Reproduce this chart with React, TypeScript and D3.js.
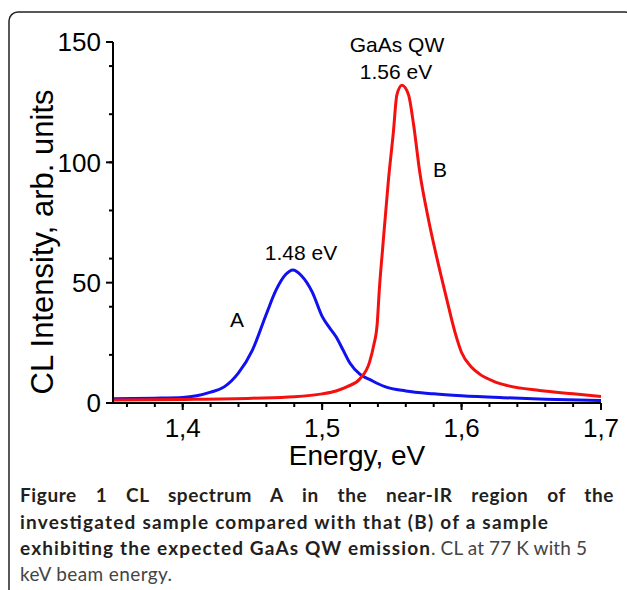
import { useEffect, useRef } from "react";
import * as d3 from "d3";

// spectrum A (blue) - near-IR emission of the investigated sample
const energyA = [1.35, 1.38, 1.4, 1.41, 1.42, 1.43, 1.44, 1.45, 1.46, 1.467, 1.474, 1.479, 1.485, 1.493, 1.5, 1.505, 1.51, 1.515, 1.52, 1.527, 1.535, 1.545, 1.56, 1.58, 1.6, 1.63, 1.66, 1.7];
const intensityA = [1.8, 2.0, 2.3, 3.0, 4.5, 6.8, 12.5, 22, 37, 47, 53.5, 55.3, 53, 46, 36, 31.5, 27.5, 22, 16.5, 12, 9.5, 6.8, 5.0, 3.8, 3.0, 2.2, 1.6, 1.0];

// spectrum B (red) - GaAs QW emission
const energyB = [1.35, 1.4, 1.45, 1.48, 1.5, 1.51, 1.518, 1.527, 1.534, 1.537, 1.5395, 1.541, 1.5435, 1.5476, 1.551, 1.5536, 1.5572, 1.562, 1.5655, 1.57, 1.576, 1.582, 1.589, 1.595, 1.6, 1.607, 1.613, 1.623, 1.633, 1.656, 1.68, 1.7];
const intensityB = [1.2, 1.5, 2.0, 2.6, 3.8, 5.0, 6.8, 10, 17, 24, 33, 47, 65, 93, 112, 128, 132, 128, 116, 96, 77, 61, 44, 30, 21, 15, 12, 9, 7.2, 5.2, 3.8, 2.7];

const captionBold1 = "Figure 1 CL spectrum A in the near-IR region of the";
const captionBold2 = "investigated sample compared with that (B) of a sample";
const captionBold3 = "exhibiting the expected GaAs QW emission";
const captionReg3 = ". CL at 77 K with 5";
const captionReg4 = "keV beam energy.";

const W = 627;
const H = 590;
const margin = { left: 113, right: 26, top: 42, bottom: 187 };

const font = "'Liberation Sans', Arial, sans-serif";
const capFont = "Lato, 'Open Sans', sans-serif";

const commaFmt = d3.formatLocale({ decimal: ",", thousands: " ", grouping: [3], currency: ["", ""] }).format(".1f");

export default function App() {
  const line1Ref = useRef<SVGTextElement>(null);

  const x = d3.scaleLinear().domain([1.35, 1.7]).range([margin.left, W - margin.right]);
  const y = d3.scaleLinear().domain([0, 150]).range([H - margin.bottom, margin.top]);

  const line = d3
    .line<[number, number]>()
    .x((d) => x(d[0]))
    .y((d) => y(d[1]))
    .curve(d3.curveMonotoneX);

  const pathA = line(energyA.map((e, i) => [e, intensityA[i]]));
  const pathB = line(energyB.map((e, i) => [e, intensityB[i]]));

  const xMajor = x.ticks(4);
  const xMinor = x.ticks(20).filter((t) => t > 1.351);
  const yMajor = y.ticks(3);
  const yMinor = y.ticks(6);
  const y0 = y(0);
  const x0 = x(1.35);

  // justify first caption line by stretching word spacing
  useEffect(() => {
    const el = line1Ref.current;
    if (!el) return;
    const target = 614 - 20;
    const w = el.getComputedTextLength();
    const gaps = captionBold1.split(" ").length - 1;
    el.setAttribute("word-spacing", String((target - w) / gaps));
  }, []);

  return (
    <svg width={W} height={H} style={{ position: "absolute", left: 0, top: 0, background: "#fff" }}>
      <rect x={9} y={12} width={625} height={620} rx={9} fill="none" stroke="#222" strokeWidth={1.5} />

      {/* minor ticks */}
      {xMinor.map((t) => (
        <line key={"xm" + t} x1={x(t)} x2={x(t)} y1={y0} y2={y0 + 4} stroke="#000" strokeWidth={2} />
      ))}
      {xMajor.map((t) => (
        <line key={"xM" + t} x1={x(t)} x2={x(t)} y1={y0} y2={y0 + 7} stroke="#000" strokeWidth={2} />
      ))}
      {yMinor.map((t) => (
        <line key={"ym" + t} x1={x0 - 4} x2={x0} y1={y(t)} y2={y(t)} stroke="#000" strokeWidth={2} />
      ))}
      {yMajor.map((t) => (
        <line key={"yM" + t} x1={x0 - 7} x2={x0} y1={y(t)} y2={y(t)} stroke="#000" strokeWidth={2} />
      ))}

      <path d={pathA ?? ""} fill="none" stroke="#1010f0" strokeWidth={3} strokeLinejoin="round" />
      <path d={pathB ?? ""} fill="none" stroke="#f51010" strokeWidth={3} strokeLinejoin="round" />

      {/* axes */}
      <line x1={x0} x2={x0} y1={y(150)} y2={y0 + 1} stroke="#000" strokeWidth={2} />
      <line x1={x0 - 1} x2={x(1.7)} y1={y0} y2={y0} stroke="#000" strokeWidth={2} />

      {xMajor.map((t) => (
        <text key={"xl" + t} x={x(t)} y={437} textAnchor="middle" fontFamily={font} fontSize={26} fill="#000">
          {commaFmt(t)}
        </text>
      ))}
      {yMajor.map((t) => (
        <text key={"yl" + t} x={x0 - 12} y={y(t)} dy="0.36em" textAnchor="end" fontFamily={font} fontSize={26} fill="#000">
          {t}
        </text>
      ))}

      <text x={(x0 + x(1.7)) / 2} y={465} textAnchor="middle" fontFamily={font} fontSize={28} fill="#000">
        Energy, eV
      </text>
      <text transform="translate(53, 242) rotate(-90)" textAnchor="middle" fontFamily={font} fontSize={31} fill="#000">
        CL Intensity, arb. units
      </text>

      {/* peak annotations */}
      <text x={397} y={52} textAnchor="middle" fontFamily={font} fontSize={21} fill="#000">GaAs QW</text>
      <text x={396} y={79} textAnchor="middle" fontFamily={font} fontSize={21} fill="#000">1.56 eV</text>
      <text x={301} y={260} textAnchor="middle" fontFamily={font} fontSize={21} fill="#000">1.48 eV</text>
      <text x={237} y={327} textAnchor="middle" fontFamily={font} fontSize={21} fill="#000">A</text>
      <text x={440} y={177} textAnchor="middle" fontFamily={font} fontSize={21} fill="#000">B</text>

      {/* caption */}
      <text ref={line1Ref} x={20} y={502} fontFamily={capFont} fontSize={19} fontWeight="bold" letterSpacing={0.6} fill="#231f20">
        {captionBold1}
      </text>
      <text x={20} y={529} fontFamily={capFont} fontSize={19} fontWeight="bold" fill="#231f20" textLength={528} lengthAdjust="spacing">
        {captionBold2}
      </text>
      <text x={20} y={555} fontFamily={capFont} fontSize={19} fontWeight="bold" fill="#231f20" textLength={410} lengthAdjust="spacing">
        {captionBold3}
      </text>
      <text x={431} y={555} fontFamily={capFont} fontSize={19} fill="#444" textLength={156} lengthAdjust="spacing">
        {captionReg3}
      </text>
      <text x={20} y={581} fontFamily={capFont} fontSize={19} fill="#444" textLength={152} lengthAdjust="spacing">
        {captionReg4}
      </text>
    </svg>
  );
}
